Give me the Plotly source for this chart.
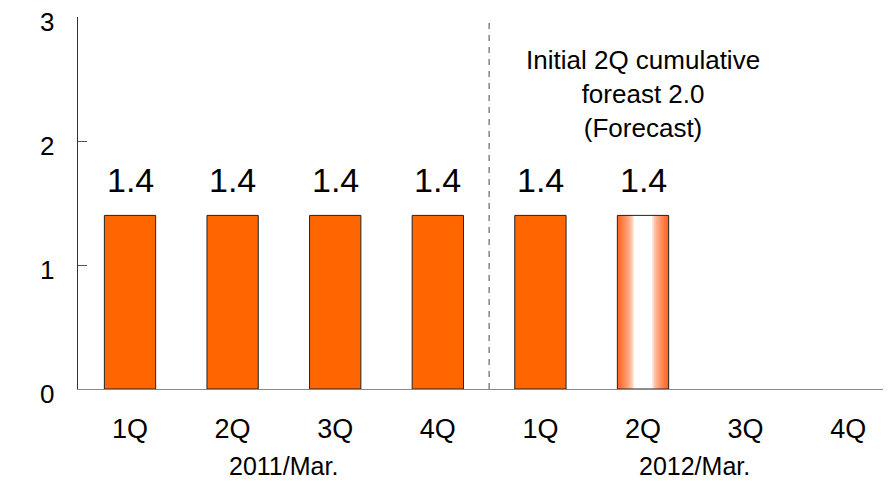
import plotly.graph_objects as go

quarters = ["1Q", "2Q", "3Q", "4Q", "1Q", "2Q", "3Q", "4Q"]
years = ["2011/Mar.", "2011/Mar.", "2011/Mar.", "2011/Mar.",
         "2012/Mar.", "2012/Mar.", "2012/Mar.", "2012/Mar."]
values = [1.4, 1.4, 1.4, 1.4, 1.4, 1.4, None, None]
is_forecast = [False, False, False, False, False, True, False, False]
note_lines = ["Initial 2Q cumulative", "foreast 2.0", "(Forecast)"]
y_ticks = [0, 1, 2, 3]

FONT = "Liberation Sans, Arial, sans-serif"
idx = list(range(len(quarters)))

fig = go.Figure()

# actual bars
fig.add_trace(go.Bar(
    x=idx,
    y=[v if not f else None for v, f in zip(values, is_forecast)],
    width=0.5,
    marker=dict(color="rgb(255,102,0)", line=dict(color="#222", width=1)),
    showlegend=False, hoverinfo="skip",
))

# forecast bar with horizontal gradient (orange edges -> white centre)
fy = [v if f else None for v, f in zip(values, is_forecast)]
steps = 40
edge = (255, 100, 35)
for k in range(steps):
    w = 0.5 * (1 - k / steps)
    d = w / 0.5  # 1 at edge, 0 at centre
    t = max(0.0, min(1.0, (d - 0.36) / 0.64)) ** 0.55
    c = tuple(int(round(255 + (e - 255) * t)) for e in edge)
    fig.add_trace(go.Bar(
        x=idx, y=fy, width=w,
        marker=dict(color=f"rgb{c}", line=dict(width=0)),
        showlegend=False, hoverinfo="skip",
    ))
# outline
fig.add_trace(go.Bar(
    x=idx, y=fy, width=0.5,
    marker=dict(color="rgba(0,0,0,0)", line=dict(color="#222", width=1)),
    showlegend=False, hoverinfo="skip",
))

# value labels
for i, v in zip(idx, values):
    if v is not None:
        fig.add_annotation(x=i, y=v, text=f"{v:.1f}", showarrow=False,
                           yanchor="bottom", yshift=14,
                           font=dict(size=34, color="black", family=FONT))

# y tick labels (sit slightly below their ticks, as in the original)
for yv in y_ticks:
    fig.add_annotation(x=0, xref="paper", y=yv, yref="y", text=str(yv),
                       showarrow=False, xanchor="right", yanchor="middle",
                       xshift=-22, yshift=-5,
                       font=dict(size=26, color="black", family=FONT))

# group labels
groups = []
for i, g in enumerate(years):
    if not groups or groups[-1][0] != g:
        groups.append([g, []])
    groups[-1][1].append(i)
for g, members in groups:
    fig.add_annotation(x=sum(members) / len(members), y=0, yref="y",
                       text=g, showarrow=False, yanchor="top", yshift=-61,
                       font=dict(size=25, color="black", family=FONT))

# separator between fiscal years
sep = len(groups[0][1]) - 0.5
fig.add_shape(type="line", xref="x", yref="paper", x0=sep, x1=sep, y0=0, y1=1,
              line=dict(color="#444", width=1, dash="6px,6px"))

# forecast note
fi = is_forecast.index(True)
fig.add_annotation(x=fi, y=3, yref="y", text="<br>".join(note_lines),
                   showarrow=False, yanchor="top", yshift=-26,
                   font=dict(size=26, color="black", family=FONT))

# page body has an 8px default margin, so the figure is 8px smaller
fig.update_layout(
    width=883, height=474,
    margin=dict(l=70, r=0, t=9, b=93),
    barmode="overlay",
    plot_bgcolor="white", paper_bgcolor="white",
    font=dict(family=FONT, color="black"),
    xaxis=dict(
        tickmode="array", tickvals=idx, ticktext=quarters,
        range=[-0.507, 7.417], showgrid=False, zeroline=False,
        showline=True, linecolor="#888", linewidth=1, ticks="",
        tickfont=dict(size=27, color="black"), ticklabelstandoff=16,
    ),
    yaxis=dict(
        range=[0, 3], tickvals=y_ticks, showgrid=False, zeroline=False,
        showline=True, linecolor="#333", linewidth=1,
        ticks="inside", ticklen=9, tickcolor="#555",
        showticklabels=False,
    ),
)

fig.write_html("out.html")
